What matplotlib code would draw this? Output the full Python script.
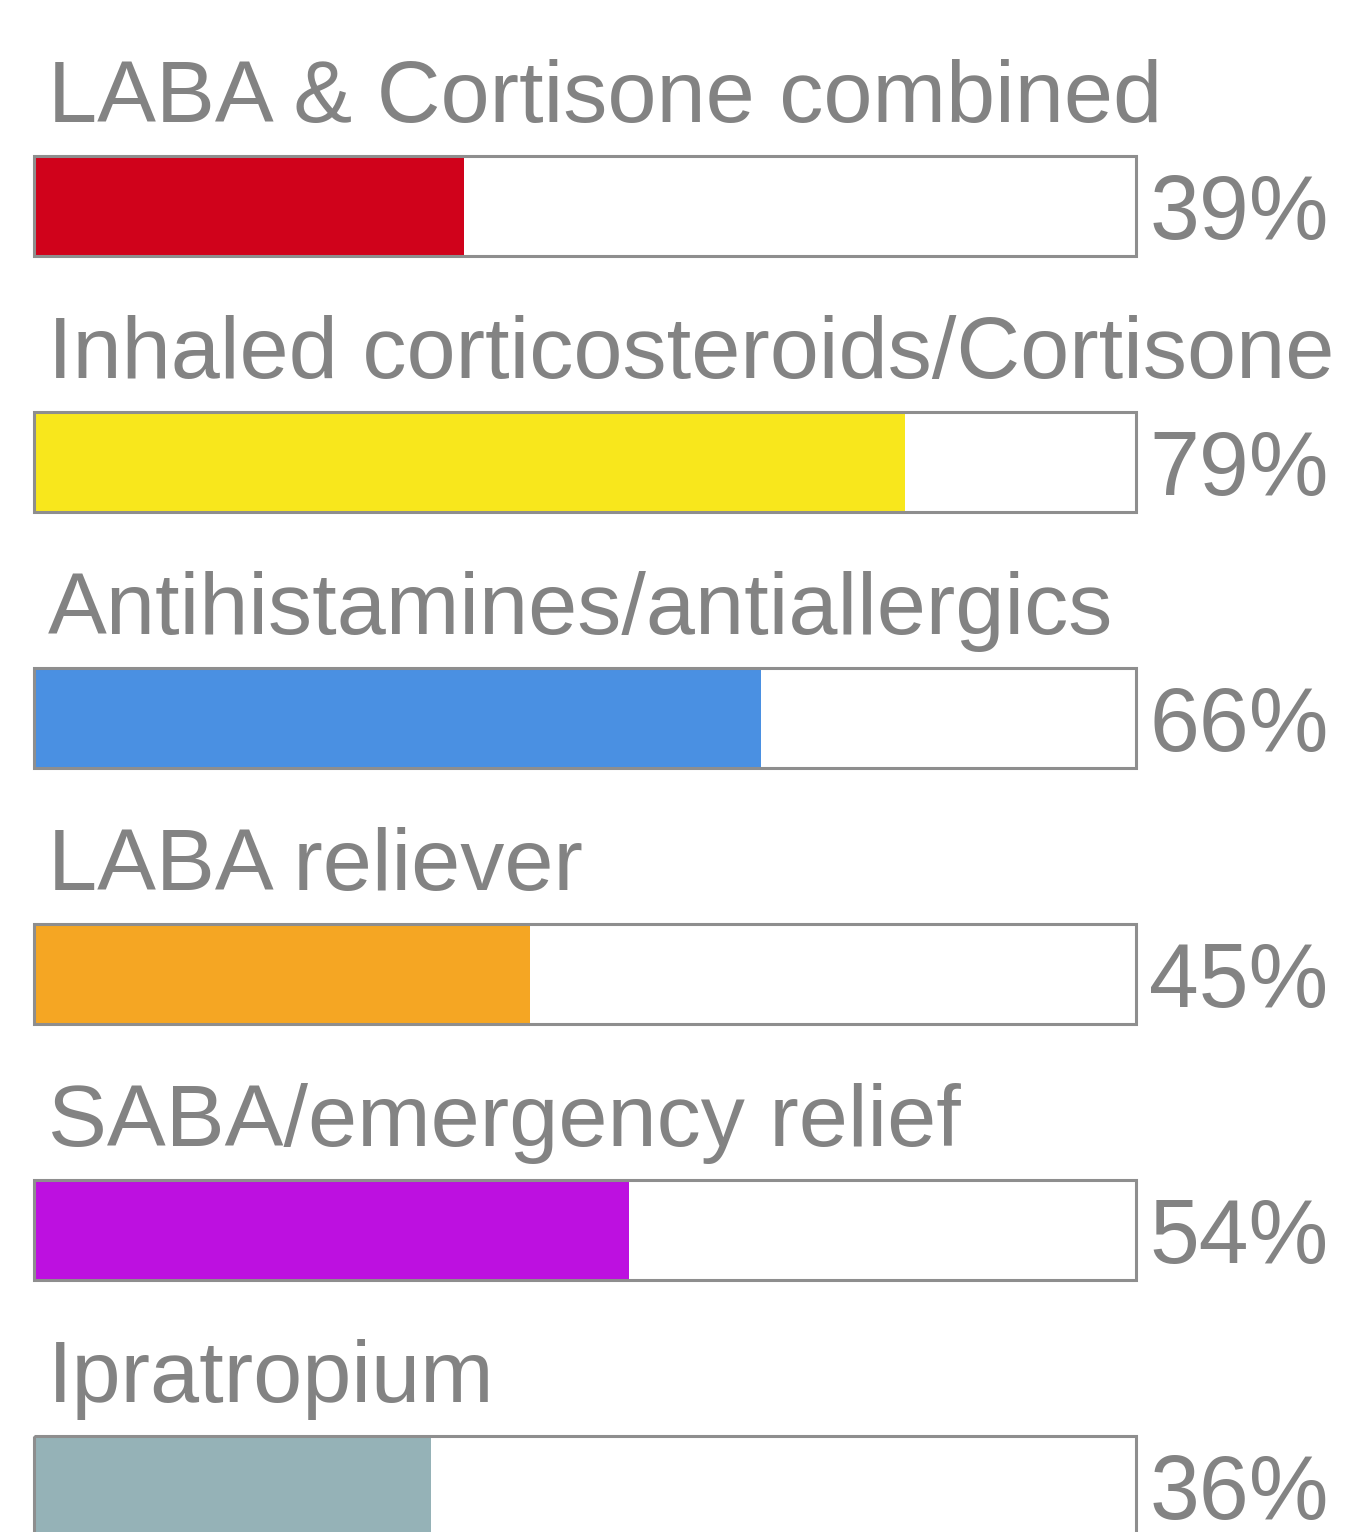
import matplotlib

matplotlib.use("Agg")
import matplotlib.pyplot as plt

labels = [
    "LABA & Cortisone combined",
    "Inhaled corticosteroids/Cortisone",
    "Antihistamines/antiallergics",
    "LABA reliever",
    "SABA/emergency relief",
    "Ipratropium",
]
values = [39, 79, 66, 45, 54, 36]
colors = ["#D0021B", "#F8E71C", "#4A90E2", "#F5A623", "#BD10E0", "#95B2B7"]

TEXT = "#838383"
FRAME = "#8E8E8E"

W, H = 1350, 1532
fig = plt.figure(figsize=(W / 100, H / 100), dpi=100)
# axes spans the frame width horizontally, whole figure vertically
left_px, right_px = 34, 1136
ax = fig.add_axes([left_px / W, 0, (right_px - left_px) / W, 1])
ax.set_xlim(0, 100)
row_px, first_px = 256, 205.5
ax.set_ylim((H - first_px) / row_px, -first_px / row_px)
ax.axis("off")

rows = range(len(labels))
bar_h = 100 / row_px
ax.barh(rows, values, height=bar_h, color=colors, linewidth=0)
ax.barh(rows, [100] * len(labels), height=bar_h, facecolor="none",
        edgecolor=FRAME, linewidth=2.2, clip_on=False)

for i, (lab, v) in enumerate(zip(labels, values)):
    ax.text(1.3, i - 0.326, lab, fontsize=63.5, color=TEXT, va="baseline",
            ha="left", family="Liberation Sans", clip_on=False)
    ax.text(101.2, i + 0.131, f"{v}%", fontsize=64.5, color=TEXT, va="baseline",
            ha="left", family="Liberation Sans", clip_on=False)

fig.savefig("out.png", dpi=100)
